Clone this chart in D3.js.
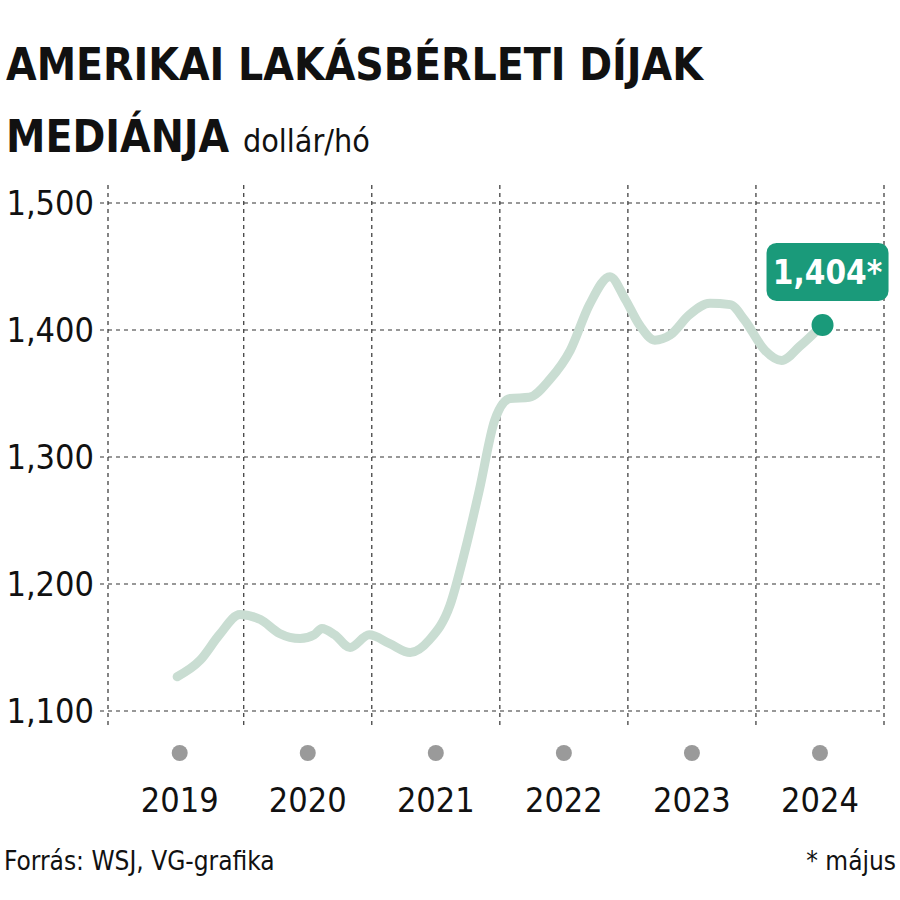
<!DOCTYPE html>
<html>
<head>
<meta charset="UTF-8">
<script src="https://cdn.jsdelivr.net/npm/d3@7"></script>
<style>
 body{margin:0;background:#fff}
 text{font-family:"Liberation Sans Narrow","DejaVu Sans Condensed","Roboto",sans-serif}
</style>
</head>
<body>
<svg id="c" width="900" height="900"></svg>
<script>
// fractional years and median rent (USD/month)
var dates = [2019.48,2019.66,2019.81,2019.97,2020.13,2020.28,2020.44,2020.55,2020.61,2020.71,2020.83,2020.98,
  2021.14,2021.30,2021.45,2021.61,2021.73,2021.84,2021.96,2022.08,2022.23,2022.39,2022.55,2022.70,2022.86,
  2022.98,2023.09,2023.21,2023.33,2023.48,2023.64,2023.80,2023.91,2024.07,2024.20,2024.34,2024.52];
var rents = [1127,1140,1160,1176,1172,1161,1157,1160,1165,1160,1150,1160,
  1153,1146,1156,1183,1227,1274,1329,1346,1347,1361,1384,1420,1442,
  1424,1404,1392,1396,1412,1421,1420,1408,1384,1376,1387,1404];
var years = [2019,2020,2021,2022,2023,2024];
var yTicks = [1100,1200,1300,1400,1500];

var svg = d3.select("#c");
var x = d3.scaleLinear().domain([2018.94,2025]).range([108,884]);
var y = d3.scaleLinear().domain([1100,1500]).range([711,203]);

svg.append("text").attr("x",6).attr("y",80).attr("font-size",44).attr("font-weight","bold").attr("fill","#111")
  .text("AMERIKAI LAKÁSBÉRLETI DÍJAK");
var t2 = svg.append("text").attr("x",6).attr("y",152).attr("fill","#111");
t2.append("tspan").attr("font-size",44).attr("font-weight","bold").text("MEDIÁNJA ");
t2.append("tspan").attr("font-size",32).text("dollár/hó");

var grid = svg.append("g").attr("stroke","#333").attr("stroke-width",1.2).attr("stroke-dasharray","4,4");
yTicks.forEach(function(v){
  grid.append("line").attr("x1",100).attr("x2",884).attr("y1",y(v)).attr("y2",y(v));
});
grid.append("line").attr("x1",108).attr("x2",108).attr("y1",185).attr("y2",725);
years.forEach(function(yr){
  grid.append("line").attr("x1",x(yr+1)).attr("x2",x(yr+1)).attr("y1",185).attr("y2",725);
});

svg.append("g").selectAll("text").data(yTicks).join("text")
  .attr("x",94).attr("y",function(d){return y(d)+12;}).attr("text-anchor","end")
  .attr("font-size",34).attr("fill","#111").text(d3.format(","));

svg.append("g").selectAll("circle").data(years).join("circle")
  .attr("cx",function(d){return x(d+0.5);}).attr("cy",753).attr("r",8).attr("fill","#9a9a9a");
svg.append("g").selectAll("text").data(years).join("text")
  .attr("x",function(d){return x(d+0.5);}).attr("y",812).attr("text-anchor","middle")
  .attr("font-size",34).attr("fill","#111").text(function(d){return d;});

var line = d3.line().x(function(d,i){return x(dates[i]);}).y(function(d){return y(d);}).curve(d3.curveMonotoneX);
svg.append("path").datum(rents).attr("d",line).attr("fill","none")
  .attr("stroke","#c9ddd2").attr("stroke-width",9).attr("stroke-linecap","round").attr("stroke-linejoin","round");

var lx = x(dates[dates.length-1]), ly = y(rents[rents.length-1]);
svg.append("circle").attr("cx",lx).attr("cy",ly).attr("r",11).attr("fill","#1a9a7a");
svg.append("rect").attr("x",lx-56).attr("y",ly-82).attr("width",122).attr("height",58).attr("rx",10).attr("fill","#1a9a7a");
svg.append("text").attr("x",lx+5).attr("y",ly-41).attr("text-anchor","middle").attr("font-size",33)
  .attr("font-weight","bold").attr("fill","#fff").text(d3.format(",")(rents[rents.length-1])+"*");

svg.append("text").attr("x",4).attr("y",870).attr("font-size",26).attr("fill","#111").text("Forrás: WSJ, VG-grafika");
svg.append("text").attr("x",896).attr("y",870).attr("text-anchor","end").attr("font-size",26).attr("fill","#111").text("* május");
</script>
</body>
</html>
